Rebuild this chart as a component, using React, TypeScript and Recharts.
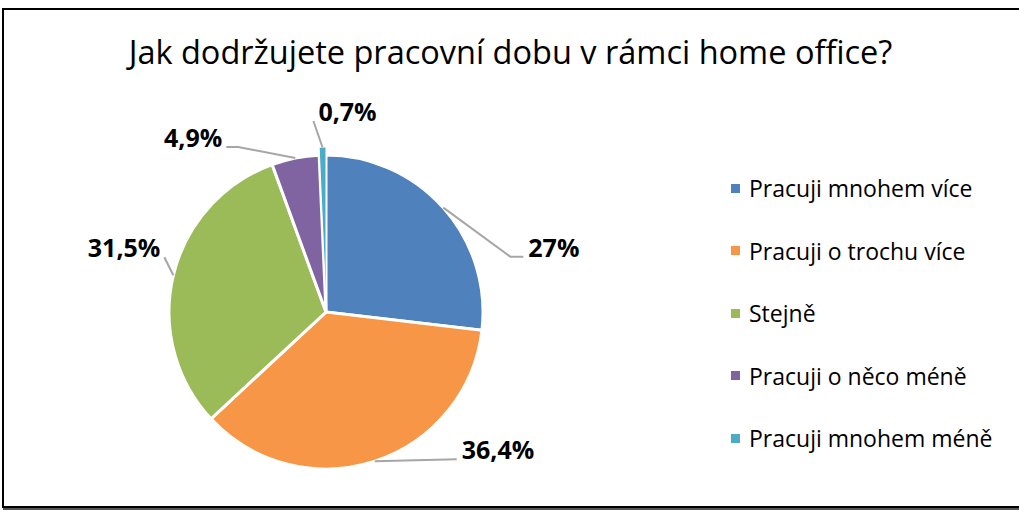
import React from "react";
import { Cell, Legend, Pie, PieChart } from "recharts";

const TITLE = "Jak dodržujete pracovní dobu v rámci home office?";
const categories = [
  "Pracuji mnohem více",
  "Pracuji o trochu více",
  "Stejně",
  "Pracuji o něco méně",
  "Pracuji mnohem méně",
];
const shares = [27, 36.4, 31.5, 4.9, 0.7];
const COLORS = ["#4F81BD", "#F79646", "#9BBB59", "#8064A2", "#4BACC6"];

const data = categories.map((name, i) => ({ name, value: shares[i] }));

const FONT = "'Open Sans', 'Liberation Sans', sans-serif";
const CX = 326;
const CY = 312;
const R = 157;
const EXPLODE = 8; // last slice is pulled out a bit
const LAST = categories.length - 1;

// leader line layout per slice: elbow offset from the slice edge, tail length, text side
const labelLayout = [
  { dx: 67, dy: 49, tail: 13, side: "right" },
  { dx: 82, dy: -2, tail: 0, side: "right" },
  { dx: -9, dy: -18, tail: 0, side: "left" },
  { dx: -57, dy: -11, tail: -12, side: "left" },
  { dx: -9, dy: -26, tail: 0, side: "right" },
];

const RAD = Math.PI / 180;

function renderLabel(props: any) {
  const { cx, cy, midAngle, outerRadius, index, value } = props;
  const lay = labelLayout[index];
  const r = outerRadius + (index === LAST ? EXPLODE : 0);
  const x0 = cx + r * Math.cos(-midAngle * RAD);
  const y0 = cy + r * Math.sin(-midAngle * RAD);
  const x1 = x0 + lay.dx;
  const y1 = y0 + lay.dy;
  const x2 = x1 + lay.tail;
  const right = lay.side === "right";
  const text = String(value).replace(".", ",") + "%";
  return (
    <g key={`lbl-${index}`}>
      <polyline
        points={`${x0},${y0} ${x1},${y1} ${x2},${y1}`}
        fill="none"
        stroke="#A6A6A6"
        strokeWidth={2}
      />
      <text
        x={right ? x2 + 5 : x2 - 4}
        y={y1}
        textAnchor={right ? "start" : "end"}
        fontFamily={FONT}
        fontWeight={700}
        fontSize={25}
        fill="#000"
      >
        {text}
      </text>
    </g>
  );
}

function renderLegend() {
  return (
    <div style={{ fontFamily: FONT, fontSize: 23, color: "#000" }}>
      {categories.map((name, i) => (
        <div
          key={name}
          style={{ display: "flex", alignItems: "center", height: 62.5 }}
        >
          <span
            style={{
              display: "inline-block",
              width: 9,
              height: 9,
              background: COLORS[i],
              marginRight: 9,
            }}
          />
          <span>{name}</span>
        </div>
      ))}
    </div>
  );
}

export default function App() {
  return (
    <div
      style={{
        position: "absolute",
        left: 0,
        top: 0,
        width: 1019,
        height: 512,
        background: "#fff",
        overflow: "hidden",
      }}
    >
      <div
        style={{
          position: "absolute",
          left: 2,
          top: 8,
          width: 1040,
          height: 496,
          border: "2px solid #000",
          boxShadow: "1px 2px 0 #555",
        }}
      />
      <div
        style={{
          position: "absolute",
          left: 0,
          top: 30,
          width: 1021,
          textAlign: "center",
          fontFamily: FONT,
          fontSize: 32.5,
          lineHeight: "44px",
          color: "#000",
        }}
      >
        {TITLE}
      </div>
      <div style={{ position: "absolute", left: 0, top: 0 }}>
        <PieChart
          width={1019}
          height={512}
          margin={{ top: 0, right: 0, bottom: 0, left: 0 }}
        >
          <Pie
            data={data}
            dataKey="value"
            nameKey="name"
            cx={CX}
            cy={CY}
            outerRadius={R}
            startAngle={90}
            endAngle={-270}
            stroke="#fff"
            strokeWidth={3}
            label={renderLabel}
            labelLine={false}
            isAnimationActive={false}
          >
            {data.map((d, i) => (
              <Cell
                key={d.name}
                fill={i === LAST ? "transparent" : COLORS[i]}
                stroke={i === LAST ? "none" : "#fff"}
              />
            ))}
          </Pie>
          <Pie
            data={data}
            dataKey="value"
            nameKey="name"
            cx={CX}
            cy={CY - EXPLODE}
            outerRadius={R}
            startAngle={90}
            endAngle={-270}
            legendType="none"
            isAnimationActive={false}
          >
            {data.map((d, i) => (
              <Cell
                key={d.name}
                fill={i === LAST ? COLORS[i] : "transparent"}
                stroke={i === LAST ? "#fff" : "none"}
                strokeWidth={1}
              />
            ))}
          </Pie>
          <Legend
            layout="vertical"
            align="right"
            verticalAlign="top"
            content={renderLegend}
            wrapperStyle={{ left: 731, top: 157, width: 285 }}
          />
        </PieChart>
      </div>
    </div>
  );
}
